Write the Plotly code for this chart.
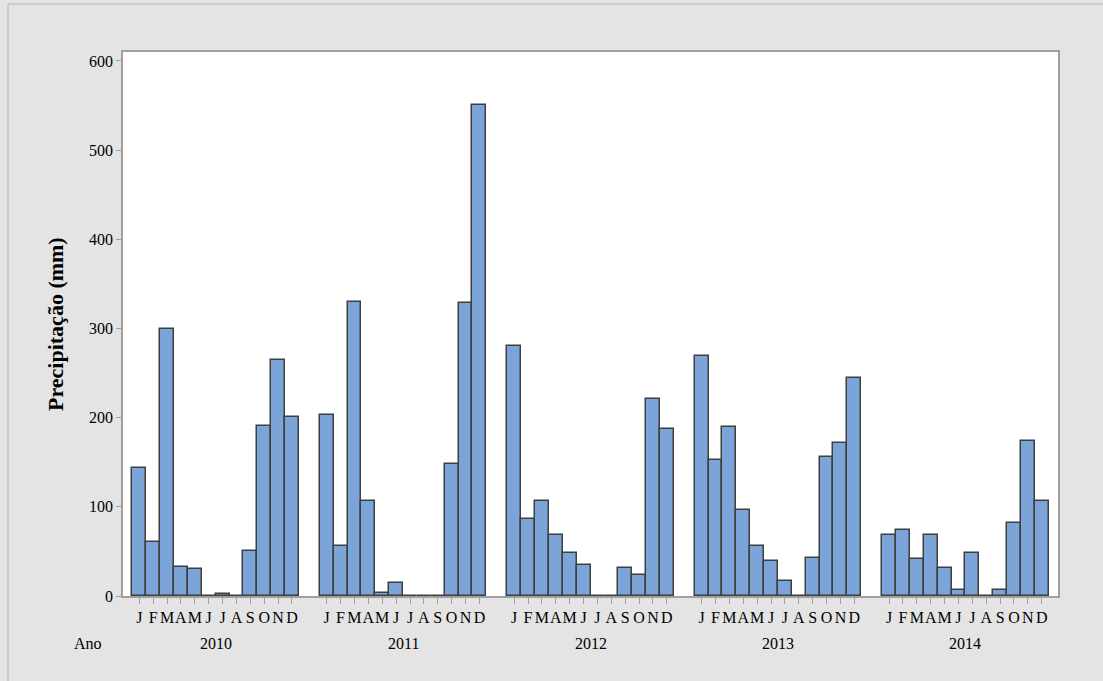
import plotly.graph_objects as go

years = ["2010", "2011", "2012", "2013", "2014"]
months = ["J", "F", "M", "A", "M", "J", "J", "A", "S", "O", "N", "D"]

p2010 = [143, 60, 299, 33, 30, 0.5, 2, 0.5, 50, 191, 265, 201]
p2011 = [203, 56, 330, 106, 3, 15, 0.5, 0.5, 0.5, 148, 328, 551]
p2012 = [280, 86, 106, 68, 48, 35, 0.5, 0.5, 31, 23, 221, 187]
p2013 = [269, 152, 189, 96, 56, 39, 17, 0.5, 43, 156, 172, 245]
p2014 = [68, 74, 41, 68, 31, 7, 48, 0.5, 7, 82, 174, 106]
series = [p2010, p2011, p2012, p2013, p2014]

GROUP = 13.5  # bar slots per year including gap

xs, ys, tickvals, ticktext = [], [], [], []
for yi, vals in enumerate(series):
    for mi, v in enumerate(vals):
        x = yi * GROUP + mi
        xs.append(x)
        ys.append(v)
        tickvals.append(x)
        ticktext.append(months[mi])

SERIF = "Liberation Serif, Times New Roman, serif"

fig = go.Figure()
fig.add_trace(go.Bar(
    x=xs, y=ys, width=1.0,
    marker=dict(color="#7ba4d8", line=dict(color="#3f3f3f", width=1.5)),
    showlegend=False,
))

x_left = -1.17
x_right = (len(years) - 1) * GROUP + 11 + 1.17

fig.update_layout(
    width=1103, height=681,
    margin=dict(l=123, r=45, t=52, b=85),
    paper_bgcolor="#e4e4e4",
    plot_bgcolor="#ffffff",
    bargap=0,
    font=dict(family=SERIF, size=15, color="#000000"),
    xaxis=dict(
        range=[x_left, x_right],
        tickmode="array", tickvals=tickvals, ticktext=ticktext,
        tickangle=0, ticks="outside", ticklen=6, tickwidth=1, tickcolor="#a0a0a0",
        showgrid=False, zeroline=False,
        showline=True, linecolor="#a0a0a0", linewidth=1.5, mirror=True,
        tickfont=dict(family=SERIF, size=16),
    ),
    yaxis=dict(
        range=[0, 610],
        tickmode="array", tickvals=[0, 100, 200, 300, 400, 500, 600],
        ticks="outside", ticklen=5, tickwidth=1, tickcolor="#a0a0a0",
        showgrid=False, zeroline=False,
        showline=True, linecolor="#a0a0a0", linewidth=1.5, mirror=True,
        tickfont=dict(family=SERIF, size=16),
    ),
)

# year labels
for yi, yr in enumerate(years):
    fig.add_annotation(
        x=yi * GROUP + 5.5, xref="x", y=-0.0864, yref="paper",
        text=yr, showarrow=False, xanchor="center", yanchor="middle",
        font=dict(family=SERIF, size=16),
    )
fig.add_annotation(
    x=(88 - 123) / 935, xref="paper", y=-0.0864, yref="paper",
    text="Ano", showarrow=False, xanchor="center", yanchor="middle",
    font=dict(family=SERIF, size=16),
)
fig.add_annotation(
    x=(55 - 123) / 935, xref="paper", y=(596 - 324) / 544, yref="paper",
    text="<b>Precipitação (mm)</b>", textangle=-90, showarrow=False,
    xanchor="center", yanchor="middle",
    font=dict(family=SERIF, size=22),
)

# outer frame lines (top and left)
fig.add_shape(type="line", xref="paper", yref="paper",
              x0=(8 - 123) / 935, x1=(1103 - 123) / 935,
              y0=(596 - 4) / 544, y1=(596 - 4) / 544,
              line=dict(color="#c4c4c4", width=1.5))
fig.add_shape(type="line", xref="paper", yref="paper",
              x0=(8 - 123) / 935, x1=(8 - 123) / 935,
              y0=(596 - 4) / 544, y1=(596 - 690) / 544,
              line=dict(color="#c4c4c4", width=1.5))

fig.write_html(
    "out.html",
    config={"displayModeBar": False},
    post_script="document.documentElement.style.margin='0';document.body.style.margin='0';"
                "document.body.style.overflow='hidden';document.body.style.background='#e4e4e4';",
)
